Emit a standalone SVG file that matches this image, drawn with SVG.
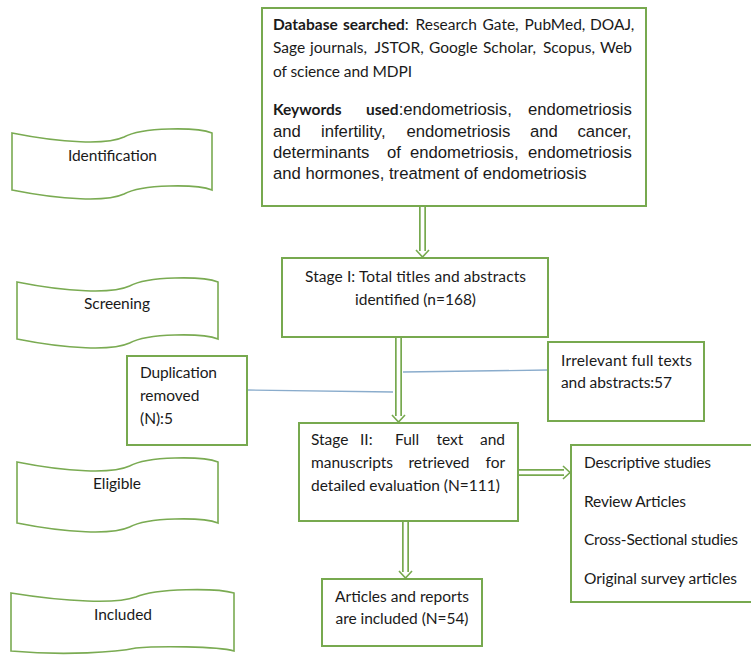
<svg xmlns="http://www.w3.org/2000/svg" width="751" height="656" viewBox="0 0 751 656">
<style>
.box{fill:#fff;stroke:#77a94f;stroke-width:2}
.ban{fill:#fff;stroke:#7aab52;stroke-width:1.6}
.c{font-family:Lato,"Liberation Sans",sans-serif;font-size:15.5px;fill:#1a1a1a}
.a{font-family:"Liberation Sans",Arial,sans-serif;font-size:16.7px}
.b{font-weight:bold}
.m{text-anchor:middle}
.dbl{stroke:#77a94f;stroke-width:7;fill:none}
.dblw{stroke:#fff;stroke-width:3.6;fill:none}
.head{stroke:#77a94f;stroke-width:1.6;fill:none;stroke-linejoin:miter}
.lnk{stroke:#8aaccc;stroke-width:1.3;fill:none}
</style>
<rect width="751" height="656" fill="#fff"/>

<g id="connectors">
  <path class="lnk" d="M247,390 L393,392"/>
  <path class="lnk" d="M403,372 L548,370"/>
  <path class="dbl" d="M422.5,207 V251"/><path class="dblw" d="M422.5,207 V252"/>
  <path class="head" d="M416,250 L422.5,257 L429,250"/>
  <path class="dbl" d="M398.5,338 V416"/><path class="dblw" d="M398.5,338 V417"/>
  <path class="head" d="M392,415 L398.5,422 L405,415"/>
  <path class="dbl" d="M405.5,522 V572"/><path class="dblw" d="M405.5,522 V573"/>
  <path class="head" d="M399,571 L405.5,578 L412,571"/>
  <path class="dbl" d="M518,472.5 H564"/><path class="dblw" d="M518,472.5 H565"/>
  <path class="head" d="M563,466 L570,472.5 L563,479"/>
</g>

<g id="identification">
  <path class="ban" d="M12,133 C62,143 107,145 124,137 C142,127 197,127 212,133 L212,190 C197,184 142,184 124,194 C107,202 62,200 12,190 Z"/>
  <text class="c m" x="112.5" y="161" textLength="89">Identification</text>
</g>
<g id="screening">
  <path class="ban" d="M17,282 C67,292 112.5,294 129.6,286 C147.7,276 202.9,276 218,282 L218,339 C202.9,333 147.7,333 129.6,343 C112.5,351 67,349 17,339 Z"/>
  <text class="c m" x="117" y="309" textLength="66">Screening</text>
</g>
<g id="eligible">
  <path class="ban" d="M17,462 C67,472 112.5,474 129.6,466 C147.7,456 202.9,456 218,462 L218,523 C202.9,517 147.7,517 129.6,527 C112.5,535 67,533 17,523 Z"/>
  <text class="c m" x="117" y="489" textLength="48">Eligible</text>
</g>
<g id="included-label">
  <path class="ban" d="M11,593 C66.8,602 116.9,604 135.9,597 C156,588 217.3,588 234,593 L234,651 C217.3,646 156,646 135.9,648 C116.9,652 66.8,656 11,651 Z"/>
  <text class="c m" x="123" y="620" textLength="58">Included</text>
</g>

<g id="search">
  <rect class="box" x="262" y="8" width="384" height="198"/>
  <text class="c" y="30"><tspan x="273" class="b">Database</tspan><tspan x="343" class="b">searched</tspan><tspan>:</tspan><tspan x="415.5">Research</tspan><tspan x="482.5">Gate,</tspan><tspan x="524.5">PubMed,</tspan><tspan x="590">DOAJ,</tspan></text>
  <text class="c" y="53"><tspan x="273">Sage</tspan><tspan x="310">journals,</tspan><tspan x="374.5">JSTOR,</tspan><tspan x="429">Google</tspan><tspan x="483">Scholar,</tspan><tspan x="543">Scopus,</tspan><tspan x="600">Web</tspan></text>
  <text class="c" x="273" y="77" textLength="139">of science and MDPI</text>
  <text class="c" y="115"><tspan x="273" class="b">Keywords</tspan><tspan x="366" class="b">used</tspan><tspan class="a">:endometriosis,</tspan><tspan x="528" class="a">endometriosis</tspan></text>
  <text class="c a" y="136.5"><tspan x="273">and</tspan><tspan x="321">infertility,</tspan><tspan x="406.5">endometriosis</tspan><tspan x="530">and</tspan><tspan x="577.5">cancer,</tspan></text>
  <text class="c a" y="157.5"><tspan x="273">determinants</tspan><tspan x="387">of</tspan><tspan x="410">endometriosis,</tspan><tspan x="528">endometriosis</tspan></text>
  <text class="c a" x="273" y="178.5">and hormones, treatment of endometriosis</text>
</g>

<g id="stage1">
  <rect class="box" x="282" y="258" width="266" height="79"/>
  <text class="c m" x="415.5" y="282" textLength="221">Stage I: Total titles and abstracts</text>
  <text class="c m" x="415.5" y="305" textLength="121">identified (n=168)</text>
</g>

<g id="duplication">
  <rect class="box" x="127" y="356" width="120" height="89"/>
  <text class="c" x="140" y="378" textLength="77">Duplication</text>
  <text class="c" x="140" y="401">removed</text>
  <text class="c" x="140" y="424">(N):5</text>
</g>

<g id="irrelevant">
  <rect class="box" x="548" y="342" width="156" height="79"/>
  <text class="c" x="561" y="366" textLength="131">Irrelevant full texts</text>
  <text class="c" x="561" y="388" textLength="111">and abstracts:57</text>
</g>

<g id="stage2">
  <rect class="box" x="299" y="423" width="219" height="98"/>
  <text class="c" y="445"><tspan x="311">Stage</tspan><tspan x="360">II:</tspan><tspan x="395">Full</tspan><tspan x="436.5">text</tspan><tspan x="480">and</tspan></text>
  <text class="c" y="468"><tspan x="311">manuscripts</tspan><tspan x="408.5">retrieved</tspan><tspan x="485.5">for</tspan></text>
  <text class="c" x="311" y="491" textLength="189">detailed evaluation (N=111)</text>
</g>

<g id="study-types">
  <rect class="box" x="571" y="445" width="190" height="157"/>
  <text class="c" x="584" y="468" textLength="127">Descriptive studies</text>
  <text class="c" x="584" y="507" textLength="102">Review Articles</text>
  <text class="c" x="584" y="545" textLength="154">Cross-Sectional studies</text>
  <text class="c" x="584" y="584" textLength="153">Original survey articles</text>
</g>

<g id="included">
  <rect class="box" x="322" y="579" width="160" height="67"/>
  <text class="c m" x="402" y="602" textLength="134">Articles and reports</text>
  <text class="c m" x="402" y="624" textLength="133">are included (N=54)</text>
</g>
</svg>
